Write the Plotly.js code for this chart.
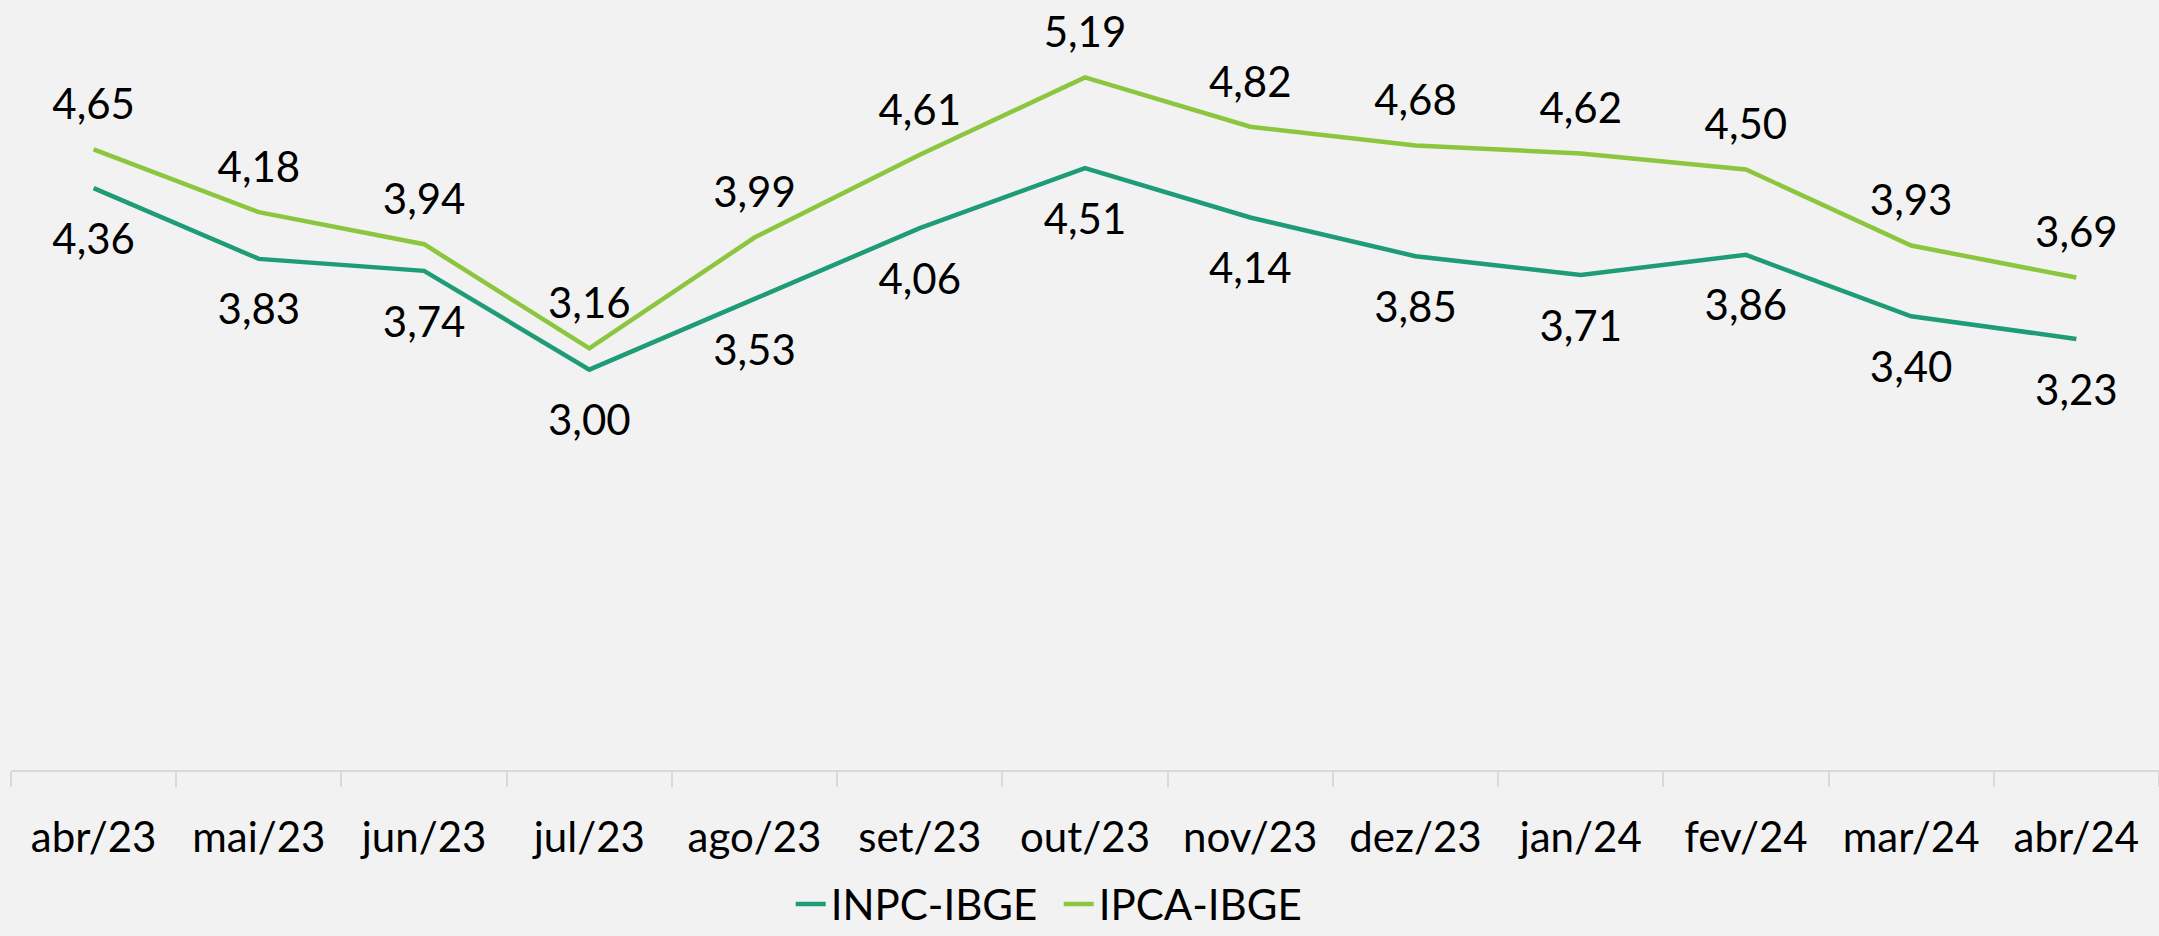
<!DOCTYPE html>
<html>
<head>
<meta charset="utf-8">
<script src="https://cdn.plot.ly/plotly-3.0.1.min.js"></script>
<style>
  html, body { margin: 0; padding: 0; background: #F2F2F2; }
  #chart { width: 2159px; height: 936px; }
</style>
</head>
<body>
<div id="chart"></div>
<script>
const categories = ["abr/23","mai/23","jun/23","jul/23","ago/23","set/23","out/23","nov/23","dez/23","jan/24","fev/24","mar/24","abr/24"];
const inpc = [4.36, 3.83, 3.74, 3.00, 3.53, 4.06, 4.51, 4.14, 3.85, 3.71, 3.86, 3.40, 3.23];
const ipca = [4.65, 4.18, 3.94, 3.16, 3.99, 4.61, 5.19, 4.82, 4.68, 4.62, 4.50, 3.93, 3.69];

const FONT = "Lato, 'Open Sans', sans-serif";
const FS = 42;

const traces = [
  {
    x: categories, y: inpc, name: "INPC-IBGE", type: "scatter", mode: "lines+markers+text",
    line: { color: "#1E9C78", width: 4.5 },
    marker: { size: 53, color: "rgba(0,0,0,0)" },
    texttemplate: "%{y:.2f}", textposition: "bottom center",
    textfont: { family: FONT, size: FS, color: "#000" },
    hoverinfo: "skip", cliponaxis: false
  },
  {
    x: categories, y: ipca, name: "IPCA-IBGE", type: "scatter", mode: "lines+markers+text",
    line: { color: "#8CC63F", width: 4.5 },
    marker: { size: 30, color: "rgba(0,0,0,0)" },
    texttemplate: "%{y:.2f}", textposition: "top center",
    textfont: { family: FONT, size: FS, color: "#000" },
    hoverinfo: "skip", cliponaxis: false
  }
];

const layout = {
  width: 2159, height: 936,
  paper_bgcolor: "#F2F2F2", plot_bgcolor: "#F2F2F2",
  separators: ",.",
  margin: { l: 11, r: 0, t: 36, b: 166, pad: 0, autoexpand: false },
  font: { family: FONT, size: FS, color: "#000" },
  showlegend: true,
  legend: {
    orientation: "h", x: 0.363, xanchor: "left", yref: "container", y: 0.034, yanchor: "middle",
    font: { family: FONT, size: FS, color: "#000" },
    bgcolor: "rgba(0,0,0,0)", entrywidth: 223, entrywidthmode: "pixels"
  },
  xaxis: {
    type: "category", range: [-0.5, 12.5],
    showline: true, linecolor: "#D9D9D9", linewidth: 2,
    ticks: "outside", tickson: "boundaries", ticklen: 15, tickcolor: "#D9D9D9", tickwidth: 2,
    ticklabelstandoff: 30,
    showgrid: false, zeroline: false,
    tickfont: { family: FONT, size: FS, color: "#000" }
  },
  yaxis: {
    range: [0, 5.5], visible: false, showgrid: false, zeroline: false, fixedrange: true
  }
};

Plotly.newPlot("chart", traces, layout, { displayModeBar: false, staticPlot: true });
</script>
</body>
</html>
